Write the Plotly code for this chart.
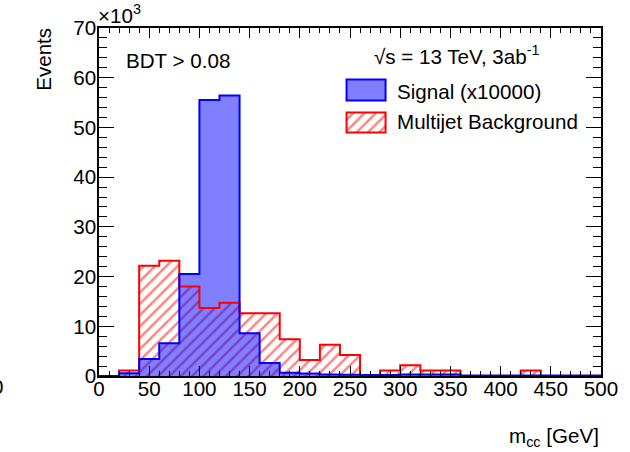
import plotly.graph_objects as go

# ---- data (values in units of 10^3 events), 20 GeV bins from 0 to 500 GeV ----
bin_edges = [0, 20, 40, 60, 80, 100, 120, 140, 160, 180, 200, 220, 240, 260,
             280, 300, 320, 340, 360, 380, 400, 420, 440, 460, 480, 500]
signal = [0.0, 0.55, 3.4, 6.6, 20.5, 55.5, 56.4, 8.6, 2.6, 0.65, 0.5, 0.3, 0.25,
          0.2, 0.2, 0.3, 0.3, 0.3, 0.1, 0.1, 0.1, 0.1, 0.1, 0.1, 0.1]
background = [0.0, 1.1, 22.2, 23.2, 18.0, 13.7, 14.75, 12.6, 12.6, 7.4, 3.2, 6.3,
              4.2, 0.0, 1.1, 2.15, 1.1, 1.1, 0.0, 0.0, 0.0, 1.1, 0.0, 0.0, 0.0]
x_ticks = [0, 50, 100, 150, 200, 250, 300, 350, 400, 450, 500]
y_ticks = [0, 10, 20, 30, 40, 50, 60, 70]

FONT = "Liberation Sans, Arial, Helvetica, sans-serif"
FS = 20.6

centers = [(a + b) / 2 for a, b in zip(bin_edges[:-1], bin_edges[1:])]
widths = [b - a for a, b in zip(bin_edges[:-1], bin_edges[1:])]
step_x = bin_edges
step_sig = signal + [signal[-1]]
step_bkg = background + [background[-1]]

HATCH = dict(shape="/", fgcolor="red", bgcolor="rgba(0,0,0,0)", size=8, solidity=0.3)

fig = go.Figure()

# background hatched
fig.add_trace(go.Bar(
    x=centers, y=background, width=widths,
    marker=dict(color="rgba(0,0,0,0)", line=dict(width=0), pattern=HATCH),
    showlegend=False, hoverinfo="skip"))
fig.add_trace(go.Scatter(
    x=step_x, y=step_bkg, mode="lines", line=dict(color="red", width=2, shape="hv"),
    showlegend=False, hoverinfo="skip"))

# signal filled (semi transparent, on top)
fig.add_trace(go.Bar(
    x=centers, y=signal, width=widths,
    marker=dict(color="rgba(0,0,255,0.5)", line=dict(width=0)),
    showlegend=False, hoverinfo="skip"))
fig.add_trace(go.Scatter(
    x=step_x, y=step_sig, mode="lines", line=dict(color="blue", width=2, shape="hv"),
    showlegend=False, hoverinfo="skip"))

# legend swatches on their own small axes
fig.add_trace(go.Bar(
    x=[0.5], y=[1], width=[1], base=[0], xaxis="x2", yaxis="y2",
    marker=dict(color="rgba(0,0,255,0.5)", line=dict(color="blue", width=2)),
    showlegend=False, hoverinfo="skip"))
fig.add_trace(go.Bar(
    x=[0.5], y=[1], width=[1], base=[0], xaxis="x3", yaxis="y3",
    marker=dict(color="rgba(0,0,0,0)", line=dict(color="red", width=2), pattern=HATCH),
    showlegend=False, hoverinfo="skip"))

W, H = 630, 452
L, R, T, B = 99, 26, 28, 76
pw, ph = W - L - R, H - T - B


def px(x):
    return (x - L) / pw


def py(y):
    return (H - B - y) / ph


axis_common = dict(showgrid=False, zeroline=False, showline=True, linecolor="black",
                   linewidth=1.5, mirror="allticks", ticks="inside",
                   tickcolor="black", tickfont=dict(family=FONT, size=FS, color="black"))

sw_pad = 0.06
fig.update_layout(
    width=W, height=H,
    margin=dict(l=L, r=R, t=T, b=B),
    paper_bgcolor="white", plot_bgcolor="white",
    barmode="overlay", bargap=0,
    font=dict(family=FONT, size=FS, color="black"),
    xaxis=dict(range=[0, 500], tickvals=x_ticks, ticklen=10, tickwidth=1,
               ticklabelstandoff=-6,
               minor=dict(ticks="inside", dtick=10, ticklen=5, tickcolor="black", tickwidth=1),
               **axis_common),
    yaxis=dict(range=[0, 70], tickvals=y_ticks, ticklen=15, tickwidth=1,
               ticklabelstandoff=-3,
               minor=dict(ticks="inside", dtick=2, ticklen=8, tickcolor="black", tickwidth=1),
               **axis_common),
    xaxis2=dict(domain=[px(346), px(390)], range=[-sw_pad, 1 + sw_pad], visible=False,
                anchor="y2", fixedrange=True),
    yaxis2=dict(domain=[py(103), py(77.5)], range=[-sw_pad * 2, 1 + sw_pad * 2], visible=False,
                anchor="x2", fixedrange=True),
    xaxis3=dict(domain=[px(346), px(390)], range=[-sw_pad, 1 + sw_pad], visible=False,
                anchor="y3", fixedrange=True),
    yaxis3=dict(domain=[py(134.5), py(110.5)], range=[-sw_pad * 2, 1 + sw_pad * 2], visible=False,
                anchor="x3", fixedrange=True),
)

ann = dict(xref="paper", yref="paper", showarrow=False,
           font=dict(family=FONT, size=FS, color="black"))
fig.add_annotation(text="BDT > 0.08", x=px(124), y=py(60), xanchor="left", yanchor="middle", **ann)
fig.add_annotation(text="√s = 13 TeV, 3ab<sup>-1</sup>", x=px(374), y=py(55),
                   xanchor="left", yanchor="middle", **ann)
fig.add_annotation(text="Signal (x10000)", x=px(397), y=py(91), xanchor="left", yanchor="middle", **ann)
fig.add_annotation(text="Multijet Background", x=px(397), y=py(122), xanchor="left",
                   yanchor="middle", **ann)
fig.add_annotation(text="Events", textangle=-90, x=px(43), y=py(59.5), xanchor="center",
                   yanchor="middle", **ann)
fig.add_annotation(text="m<sub>cc</sub> [GeV]", x=1.0, y=py(437), xanchor="right",
                   yanchor="middle", **ann)
fig.add_annotation(text="×10<sup>3</sup>", x=px(96), y=py(14), xanchor="left",
                   yanchor="middle", **ann)
fig.add_annotation(text="0", x=px(-3), y=py(386), xanchor="center", yanchor="middle", **ann)

fig.write_html("out.html", config={"displayModeBar": False},
               post_script="document.body.style.margin='0';document.body.style.padding='0';")
